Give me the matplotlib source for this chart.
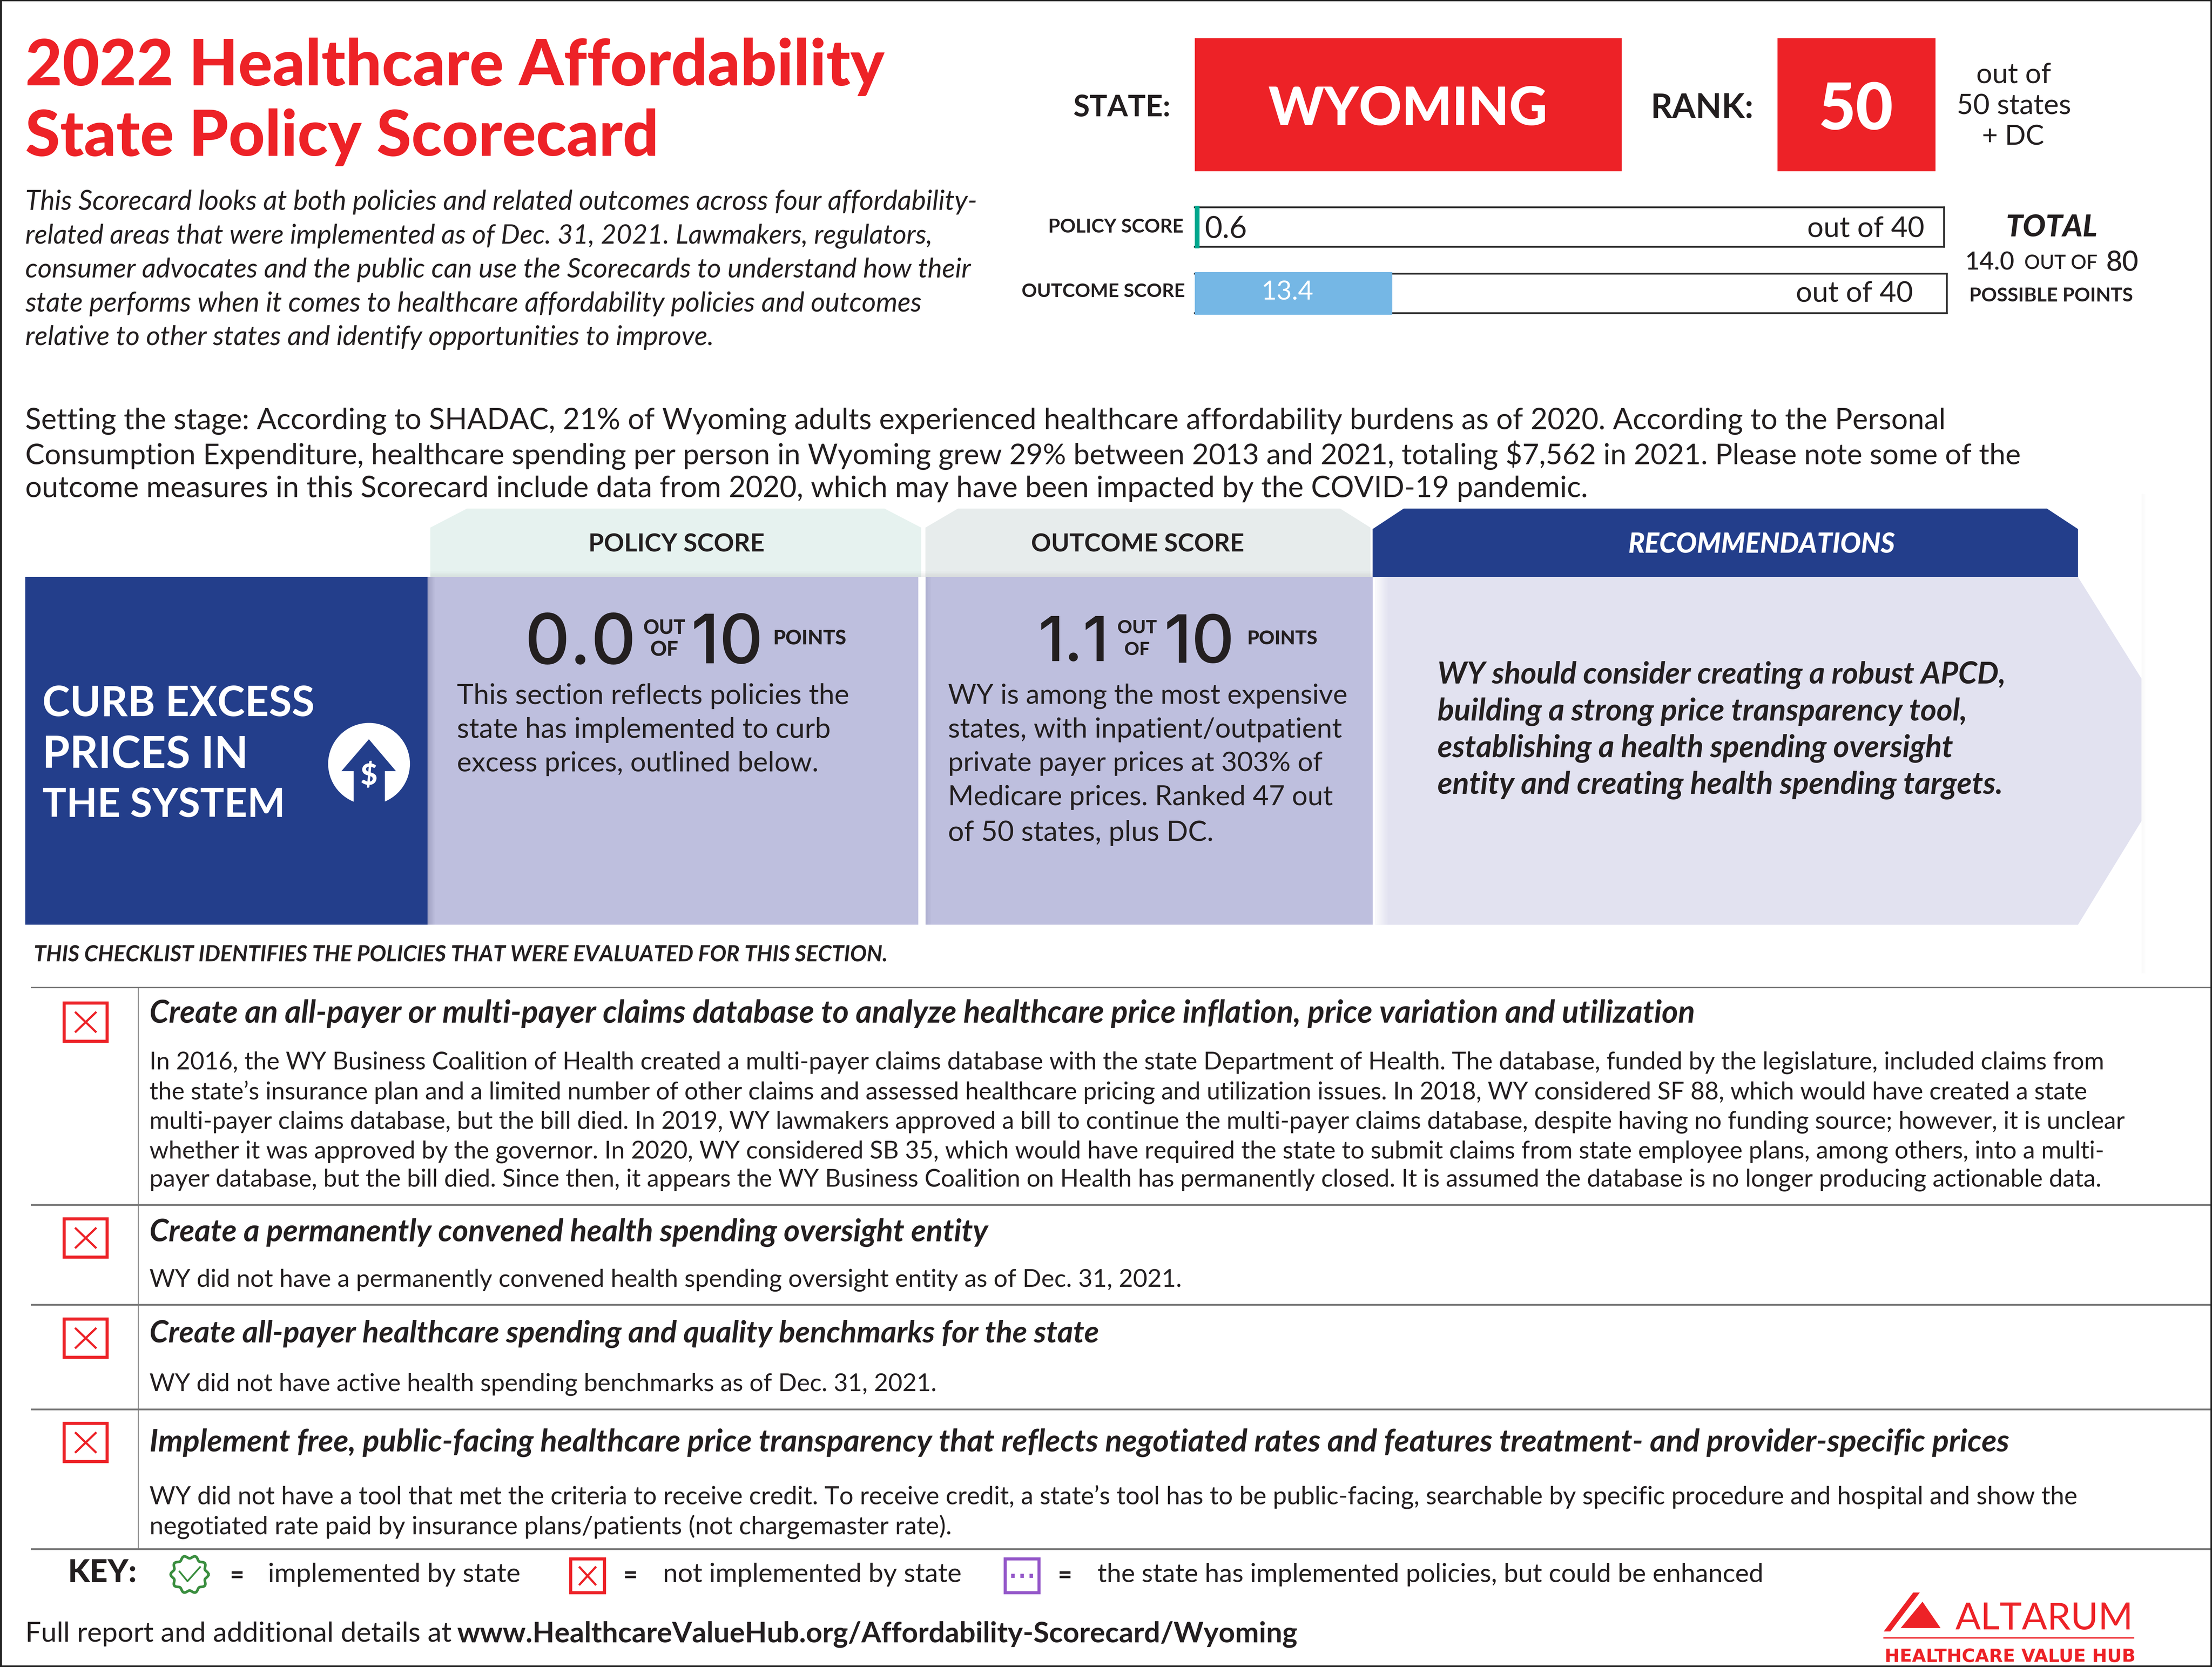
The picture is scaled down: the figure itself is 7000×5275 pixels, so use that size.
import numpy as np
import matplotlib
matplotlib.use("Agg")
import matplotlib.pyplot as plt
from matplotlib.patches import Polygon, Rectangle, Circle

FONT = "Lato"
RED = "#ED2227"; NAVY = "#233E8B"; LILAC = "#BEBFDE"; PALE = "#E2E2F0"; INK = "#231F20"

# ---------------- data ----------------
state = "WYOMING"
rank = "50"
score_labels = ["POLICY SCORE", "OUTCOME SCORE"]
score_values = ["0.6", "13.4"]
score_max = 40
bar_lengths_as_drawn = [0.25, 10.5]   # printed fill length, on the 0-40 track
bar_colors = ["#00A78E", "#75B7E5"]

title_lines = ["2022 Healthcare Affordability", "State Policy Scorecard"]
intro_lines = [
    "This Scorecard looks at both policies and related outcomes across four affordability-",
    "related areas that were implemented as of Dec. 31, 2021. Lawmakers, regulators,",
    "consumer advocates and the public can use the Scorecards to understand how their",
    "state performs when it comes to healthcare affordability policies and outcomes",
    "relative to other states and identify opportunities to improve.",
]
stage_lines = [
    "Setting the stage: According to SHADAC, 21% of Wyoming adults experienced healthcare affordability burdens as of 2020. According to the Personal",
    "Consumption Expenditure, healthcare spending per person in Wyoming grew 29% between 2013 and 2021, totaling $7,562 in 2021. Please note some of the",
    "outcome measures in this Scorecard include data from 2020, which may have been impacted by the COVID-19 pandemic.",
]
policy_lines = ["This section reflects policies the", "state has implemented to curb", "excess prices, outlined below."]
outcome_lines = ["WY is among the most expensive", "states, with inpatient/outpatient",
                 "private payer prices at 303% of", "Medicare prices. Ranked 47 out", "of 50 states, plus DC."]
rec_lines = ["WY should consider creating a robust APCD,", "building a strong price transparency tool,",
             "establishing a health spending oversight", "entity and creating health spending targets."]
section_lines = ["CURB EXCESS", "PRICES IN", "THE SYSTEM"]
checklist_title = "THIS CHECKLIST IDENTIFIES THE POLICIES THAT WERE EVALUATED FOR THIS SECTION."
row_heads = [
    "Create an all-payer or multi-payer claims database to analyze healthcare price inflation, price variation and utilization",
    "Create a permanently convened health spending oversight entity",
    "Create all-payer healthcare spending and quality benchmarks for the state",
    "Implement free, public-facing healthcare price transparency that reflects negotiated rates and features treatment- and provider-specific prices",
]
row_bodies = [
    ["In 2016, the WY Business Coalition of Health created a multi-payer claims database with the state Department of Health. The database, funded by the legislature, included claims from",
     "the state\u2019s insurance plan and a limited number of other claims and assessed healthcare pricing and utilization issues. In 2018, WY considered SF 88, which would have created a state",
     "multi-payer claims database, but the bill died. In 2019, WY lawmakers approved a bill to continue the multi-payer claims database, despite having no funding source; however, it is unclear",
     "whether it was approved by the governor. In 2020, WY considered SB 35, which would have required the state to submit claims from state employee plans, among others, into a multi-",
     "payer database, but the bill died. Since then, it appears the WY Business Coalition on Health has permanently closed. It is assumed the database is no longer producing actionable data."],
    ["WY did not have a permanently convened health spending oversight entity as of Dec. 31, 2021."],
    ["WY did not have active health spending benchmarks as of Dec. 31, 2021."],
    ["WY did not have a tool that met the criteria to receive credit. To receive credit, a state\u2019s tool has to be public-facing, searchable by specific procedure and hospital and show the",
     "negotiated rate paid by insurance plans/patients (not chargemaster rate)."],
]
key_labels = ["implemented by state", "not implemented by state", "the state has implemented policies, but could be enhanced"]

# ---------------- canvas ----------------
W, H = 1568.0, 1181.6
fig = plt.figure(figsize=(70, 52.75), dpi=100, facecolor="white")
ax = fig.add_axes([0, 0, 1, 1])
ax.set_xlim(0, W); ax.set_ylim(H, 0); ax.axis("off")
renderer = fig.canvas.get_renderer()
PT = 3.214

def T(x0, x1, y, s, size=20, color=INK, weight="normal", style="normal", anchor="left", zorder=5, font=FONT):
    """Text whose size is fitted to the span x0..x1 it has in the reference."""
    xx = {"left": x0, "center": (x0 + x1) / 2, "right": x1}[anchor]
    t = ax.text(xx, y - 0.4, s, fontsize=size * PT, color=color, family=font, fontweight=weight, fontstyle=style,
                ha=anchor, va="center_baseline", zorder=zorder)
    w = t.get_window_extent(renderer).width
    t.set_fontsize(t.get_fontsize() * (x1 - x0) * 7000 / W / w)
    return t

def R(x0, y0, x1, y1, fc, ec="none", lw=0, z=1, alpha=None):
    ax.add_patch(Rectangle((x0, y0), x1 - x0, y1 - y0, fc=fc, ec=ec, lw=lw, zorder=z, alpha=alpha))

def P(pts, fc, z=1):
    ax.add_patch(Polygon(pts, closed=True, fc=fc, ec="none", zorder=z))

def shadow(x, y0, y1, wid=5, color="#6E6F94", strength=.35):
    for i in range(wid):
        R(x + i, y0, x + i + 1, y1, color, z=2, alpha=strength * (1 - i / wid))

# border
ax.plot([0.5, 0.5], [0, H], color="#222222", lw=5, zorder=9)
ax.plot([W - .5, W - .5], [0, H], color="#222222", lw=5, zorder=9)
ax.plot([0, W], [0.5, 0.5], color="#222222", lw=3, zorder=9)

# title
T(18, 627, 44, title_lines[0], 46, RED, "black")
T(18, 467, 94, title_lines[1], 46, RED, "black")

# intro
for y, x1, s in zip([142, 166, 190, 214, 238], [693, 661, 688, 654, 506], intro_lines):
    T(18, x1, y, s, 20, style="italic")

# state / rank
T(761, 830, 75, "STATE:", 22, weight="bold")
R(847, 27, 1149.5, 121.5, RED)
T(899, 1097, 75, state, 40, "white", "black")
T(1170, 1243, 75, "RANK:", 22, weight="bold")
R(1260, 27, 1372, 121.5, RED)
T(1289, 1342, 75, rank, 45, "white", "black")
T(1401, 1454, 52, "out of", 20, anchor="center")
T(1387, 1468, 74, "50 states", 20, anchor="center")
T(1405, 1449, 96, "+ DC", 20, anchor="center")

# score bars, on real 0-40 axes
for i, (y0, y1, xr) in enumerate([(147, 175, 1378), (194, 222, 1380)]):
    a = fig.add_axes([847 / W, 1 - y1 / H, (xr - 847) / W, (y1 - y0) / H], facecolor="white", zorder=3)
    a.set_xlim(0, score_max); a.set_ylim(-.5, .5)
    a.barh([0], [bar_lengths_as_drawn[i]], height=1.08, color=bar_colors[i], zorder=4, clip_on=False)
    a.set_xticks([]); a.set_yticks([])
    for sp in a.spines.values():
        sp.set_linewidth(4); sp.set_color("#2B2B2B")
    a.spines["left"].set_visible(False)
T(743, 839, 160, score_labels[0], 15, weight="bold", anchor="right")
T(724, 840, 206, score_labels[1], 15, weight="bold", anchor="right")
ax.set_zorder(6); ax.patch.set_alpha(0)
T(854, 884, 161, score_values[0], 20)
T(1281, 1364, 161, "out of 40", 20)
T(894, 931, 206, score_values[1], 20, "white")
T(1273, 1356, 207, "out of 40", 20)
T(1422, 1487, 160, "TOTAL", 22, weight="black", style="italic")
T(1393, 1428, 185, "14.0", 20, weight="medium")
T(1435, 1487, 186, "OUT OF", 15, weight="medium")
T(1493, 1516, 185, "80", 20, weight="medium")
T(1396, 1512, 209, "POSSIBLE POINTS", 15, weight="bold")

# setting the stage
for y, x1, s in zip([297, 321, 345], [1378, 1432, 1124], stage_lines):
    T(18, x1, y, s, 20)

# tabs
P([(305, 409), (305, 374), (331, 360.5), (627, 360.5), (653, 374), (653, 409)], "#E6F2EF")
P([(656, 409), (656, 374), (679, 360.5), (950, 360.5), (971.5, 374), (971.5, 409)], "#E7ECEC")
P([(973, 409), (973, 375), (995, 360.5), (1451, 360.5), (1473, 375), (1473, 409)], NAVY)
T(417, 542, 385, "POLICY SCORE", 16, weight="bold")
T(731, 882, 385, "OUTCOME SCORE", 16, weight="bold")
T(1154, 1343, 385, "RECOMMENDATIONS", 16, "white", "black", "italic")

# main panels
R(18, 409, 303, 655.5, NAVY)
R(303, 409, 651, 655.5, LILAC)
R(656, 409, 973, 655.5, LILAC)
P([(975, 409), (1473, 409), (1518, 481), (1518, 582), (1473, 655.5), (975, 655.5)], PALE)
shadow(303, 409, 655.5); shadow(656, 409, 655.5, 4, "#9C9DC0", .4)
shadow(975, 409, 655.5, 9, "#FFFFFF", .8)
shadow(1518, 350, 690, 3, "#BBBBBB", .07)
for i in range(4):
    R(305, 408 - i, 973, 409 - i, "#999999", z=2, alpha=0.18 * (1 - i / 4))

for y, x1, s in zip([497, 533, 569], [223, 176, 202], section_lines):
    T(30, x1, y, s, 33, "white", "bold")

# dollar arrow icon
ax.add_patch(Circle((261.6, 541.4), 29, fc="white", ec="none", zorder=3))
P([(261.5, 524), (280.7, 546.6), (272.8, 546.6), (272.8, 575), (250.7, 575), (250.7, 546.6), (242, 546.6)], NAVY, z=4)
T(255.5, 267.5, 549, "$", 24, "white", "black")

# scores
NUM = "Inter"
T(372, 451, 453, "0.0", 50, weight="medium", font=NUM)
T(456, 486, 444.5, "OUT", 14, weight="black")
T(461, 481, 460, "OF", 14, weight="black")
T(490, 541, 453, "10", 50, weight="medium", font=NUM)
T(548, 600, 452, "POINTS", 14, weight="black")
T(736, 786, 453, "1.1", 50, weight="medium", font=NUM)
T(792, 820, 444.5, "OUT", 14, weight="black")
T(797, 815, 460, "OF", 14, weight="black")
T(825, 875, 453, "10", 50, weight="medium", font=NUM)
T(884, 934, 452, "POINTS", 14, weight="black")

for y, x1, s in zip([492, 516, 540], [602, 589, 580], policy_lines):
    T(324, x1, y, s, 20)
for y, x1, s in zip([492, 516, 540, 564, 589], [955, 951, 937, 945, 860], outcome_lines):
    T(672, x1, y, s, 20)
for y, x1, s in zip([477, 503, 529, 555], [1422, 1395, 1385, 1420], rec_lines):
    T(1019, x1, y, s, 22, weight="bold", style="italic")

# checklist
T(24, 630, 676, checklist_title, 15, weight="bold", style="italic")
for y in [700, 854, 925, 999, 1098]:
    ax.plot([22, W], [y, y], color="#777777", lw=4 if y != 700 else 3, zorder=3, solid_capstyle="butt")
ax.plot([98, 98], [700, 1098], color="#777777", lw=2, zorder=3)

def xbox(x0, y0, x1, y1, lw=7):
    R(x0, y0, x1, y1, "white", RED, lw, z=4)
    m = (x1 - x0) * .27; n = (y1 - y0) * .25
    ax.plot([x0 + m, x1 - m], [y0 + n, y1 - n], color=RED, lw=lw * .7, zorder=5)
    ax.plot([x0 + m, x1 - m], [y1 - n, y0 + n], color=RED, lw=lw * .7, zorder=5)

for y0 in [711, 864, 935, 1009]:
    xbox(45.5, y0, 76, y0 + 27)

head_y = [717, 872, 944, 1021]
head_x1 = [1202, 701, 780, 1425]
body_y = [[752, 773, 794, 815, 835], [906], [980], [1060, 1081]]
body_x1 = [[1492, 1482, 1508, 1494, 1491], [838], [664], [1474, 675]]
for hy, hx, hs, bys, bxs, bss in zip(head_y, head_x1, row_heads, body_y, body_x1, row_bodies):
    T(106, hx, hy, hs, 22, weight="bold", style="italic")
    for by, bx, bs in zip(bys, bxs, bss):
        T(106, bx, by, bs, 18)

# key
T(48, 97, 1113.5, "KEY:", 22, weight="black")
th = np.linspace(0, 2 * np.pi, 400)
rr = 12.4 + 1.0 * np.cos(10 * th)
ax.plot(134.4 + rr * np.cos(th), 1116 + rr * np.sin(th), color="#3A8E3F", lw=6, zorder=5)
ax.plot([127.3, 132.9, 141.8], [1114, 1120.8, 1110.8], color="#3A8E3F", lw=4, zorder=5)
for x in [168, 447, 755]:
    T(x - 5, x + 5, 1116, "=", 20, weight="black")
T(190, 369, 1115, key_labels[0], 19)
xbox(404.5, 1105, 428.5, 1129, 7)
T(470, 682, 1115, key_labels[1], 19)
R(712.5, 1105, 736.5, 1129, "white", "#9457C9", 7, z=4)
for dx in [718, 724.5, 731]:
    R(dx - 1.3, 1115.5, dx + 1.3, 1118.5, "#9457C9", z=5)
T(778, 1250, 1115, key_labels[2], 19)

# footer
T(18, 320, 1157, "Full report and additional details at", 20)
T(324, 920, 1157, "www.HealthcareValueHub.org/Affordability-Scorecard/Wyoming", 20, weight="bold")

# logo
P([(1356.2, 1128.8), (1360.9, 1128.8), (1340, 1156.4), (1335.3, 1156.4)], RED)
P([(1362.8, 1135.3), (1375.6, 1154), (1347.3, 1154)], RED)
T(1386, 1512, 1145.5, "ALTARUM", 24, RED, "normal")
ax.plot([1335, 1513], [1161, 1161], color=RED, lw=3, zorder=5, solid_capstyle="butt")
T(1336, 1514, 1173.5, "HEALTHCARE VALUE HUB", 20, RED, "bold", font="Liberation Sans Narrow")

# bottom border last, over the cropped logo line
ax.plot([0, W], [H - .5, H - .5], color="#222222", lw=5, zorder=9)

fig.savefig("out.png", dpi=100)
